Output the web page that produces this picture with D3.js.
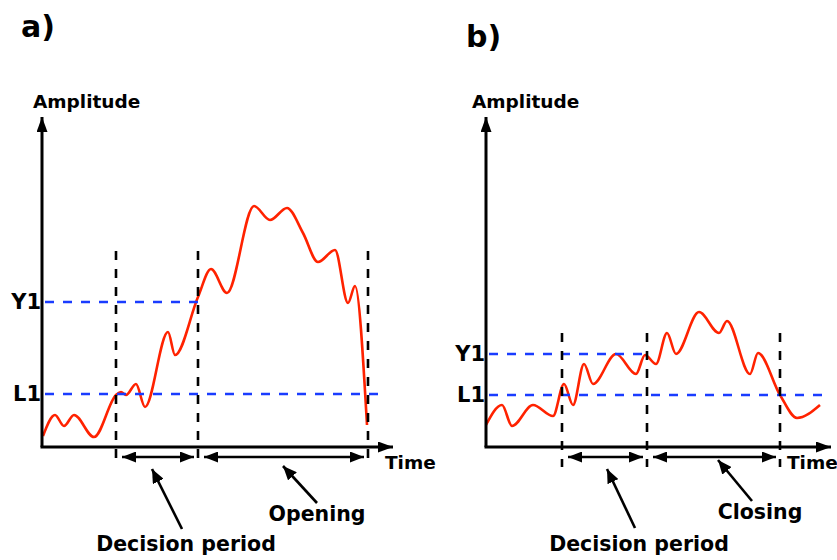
<!DOCTYPE html>
<html>
<head>
<meta charset="utf-8">
<script src="https://cdn.jsdelivr.net/npm/d3@7"></script>
<style>
  body { margin: 0; background: #fff; }
  text { font-family: "DejaVu Sans", sans-serif; font-weight: bold; fill: #000; }
</style>
</head>
<body>
<div id="chart"></div>
<script>
// panel a) - signal rises above Y1 -> opening
var timeA = [1, 13, 22, 32, 52, 74, 79, 84, 94, 103, 126, 133, 156, 169, 185, 212, 228, 245, 261, 276, 293, 306, 313, 325];
var ampA = [11, 32, 21, 32, 10, 52, 55, 52, 63, 40, 115, 92, 150, 178, 154, 241, 227, 239, 214, 185, 197, 144, 161, 22];
var levelsA = [145, 53];          // Y1, L1
var levelNames = ["Y1", "L1"];
var markersA = [74, 156, 326];    // start decision, end decision, end opening

// panel b) - signal drops below L1 -> closing
var timeB = [0, 16, 26, 47, 67, 78, 87, 98, 107, 130, 150, 159, 170, 181, 190, 213, 233, 241, 264, 272, 294, 311, 334];
var ampB = [22, 42, 21, 42, 31, 63, 42, 83, 63, 93, 73, 92, 83, 114, 93, 135, 114, 126, 73, 94, 52, 29, 42];
var levelsB = [93, 52];
var markersB = [76, 161, 294];

var width = 837;
var height = 560;

var svg = d3.select("#chart")
  .append("svg")
  .attr("width", width)
  .attr("height", height);

// arrow heads
var defs = svg.append("defs");
function addMarker(id, len, wid) {
  defs.append("marker")
    .attr("id", id)
    .attr("markerUnits", "userSpaceOnUse")
    .attr("viewBox", "0 0 " + len + " " + wid)
    .attr("refX", len)
    .attr("refY", wid / 2)
    .attr("markerWidth", len)
    .attr("markerHeight", wid)
    .attr("orient", "auto-start-reverse")
    .append("path")
    .attr("d", "M0,0L" + len + "," + (wid / 2) + "L0," + wid + "Z")
    .attr("fill", "#000");
}
addMarker("axisHead", 15, 11);
addMarker("spanHead", 14, 11);
addMarker("noteHead", 14, 12);

function drawPanel(p) {
  var x = d3.scaleLinear().domain([0, p.tMax]).range([p.x0, p.x1]);
  var y = d3.scaleLinear().domain([0, 330]).range([447, 117]);
  var g = svg.append("g");

  // red signal
  var pts = p.time.map(function(t, i) { return [t, p.amp[i]]; });
  var line = d3.line()
    .x(function(d) { return x(d[0]); })
    .y(function(d) { return y(d[1]); })
    .curve(d3.curveMonotoneX);
  g.append("path")
    .datum(pts)
    .attr("d", line)
    .attr("fill", "none")
    .attr("stroke", "#ff2200")
    .attr("stroke-width", 2.6);

  // threshold levels
  g.selectAll(".level")
    .data(p.levels)
    .enter()
    .append("line")
    .attr("x1", x(0))
    .attr("x2", function(d, i) { return i === 0 ? x(p.markers[1]) : x(p.levelEnd); })
    .attr("y1", function(d) { return y(d); })
    .attr("y2", function(d) { return y(d); })
    .attr("stroke", "#1a3cff")
    .attr("stroke-width", 2.6)
    .attr("stroke-dasharray", "9,9")
    .attr("stroke-dashoffset", -3);

  g.selectAll(".levelText")
    .data(p.levels)
    .enter()
    .append("text")
    .attr("x", x(0) - 1)
    .attr("y", function(d) { return y(d) + 7; })
    .attr("text-anchor", "end")
    .attr("font-size", 21)
    .text(function(d, i) { return levelNames[i]; });

  // vertical markers
  g.selectAll(".vmark")
    .data(p.markers)
    .enter()
    .append("line")
    .attr("x1", function(d) { return x(d); })
    .attr("x2", function(d) { return x(d); })
    .attr("y1", y(p.vTop))
    .attr("y2", p.vBottom)
    .attr("stroke", "#000")
    .attr("stroke-width", 2.6)
    .attr("stroke-dasharray", "9,9");

  // axes
  g.append("line")
    .attr("x1", x(0)).attr("y1", y(0))
    .attr("x2", x(0)).attr("y2", 117)
    .attr("stroke", "#000").attr("stroke-width", 3)
    .attr("marker-end", "url(#axisHead)");
  g.append("line")
    .attr("x1", x(0) - 1.5).attr("y1", y(0))
    .attr("x2", p.x1 + 1).attr("y2", y(0))
    .attr("stroke", "#000").attr("stroke-width", 3)
    .attr("marker-end", "url(#axisHead)");

  g.append("text")
    .attr("x", p.ampX).attr("y", 108)
    .attr("font-size", 18.5)
    .text("Amplitude");
  g.append("text")
    .attr("x", p.timeX).attr("y", 469)
    .attr("font-size", 18.5)
    .text("Time");

  // period spans
  var spans = [[p.markers[0], p.markers[1]], [p.markers[1], p.markers[2]]];
  g.selectAll(".span")
    .data(spans)
    .enter()
    .append("line")
    .attr("x1", function(d) { return x(d[0]) + 6; })
    .attr("x2", function(d) { return x(d[1]) - 4; })
    .attr("y1", 457)
    .attr("y2", 457)
    .attr("stroke", "#000")
    .attr("stroke-width", 2.6)
    .attr("marker-start", "url(#spanHead)")
    .attr("marker-end", "url(#spanHead)");

  // annotations
  p.notes.forEach(function(n) {
    g.append("line")
      .attr("x1", n.tail[0]).attr("y1", n.tail[1])
      .attr("x2", n.tip[0]).attr("y2", n.tip[1])
      .attr("stroke", "#000").attr("stroke-width", 2.6)
      .attr("marker-end", "url(#noteHead)");
    g.append("text")
      .attr("x", n.label[0]).attr("y", n.label[1])
      .attr("text-anchor", "middle")
      .attr("font-size", 20.5)
      .text(n.text);
  });

  svg.append("text")
    .attr("x", p.tag[0]).attr("y", p.tag[1])
    .attr("font-size", 30)
    .text(p.tagText);
}

drawPanel({
  time: timeA, amp: ampA, levels: levelsA, markers: markersA,
  tMax: 350, x0: 42, x1: 392, levelEnd: 340,
  vTop: 196, vBottom: 462,
  ampX: 33, timeX: 385,
  tag: [21, 37], tagText: "a)",
  notes: [
    { tail: [182, 529], tip: [152, 469], label: [186, 551], text: "Decision period" },
    { tail: [317, 503], tip: [283, 466], label: [317, 521], text: "Opening" }
  ]
});

drawPanel({
  time: timeB, amp: ampB, levels: levelsB, markers: markersB,
  tMax: 344, x0: 486, x1: 830, levelEnd: 336,
  vTop: 114, vBottom: 467,
  ampX: 472, timeX: 787,
  tag: [466, 47], tagText: "b)",
  notes: [
    { tail: [635, 528], tip: [607, 469], label: [639, 551], text: "Decision period" },
    { tail: [752, 501], tip: [718, 460], label: [760, 519], text: "Closing" }
  ]
});
</script>
</body>
</html>
